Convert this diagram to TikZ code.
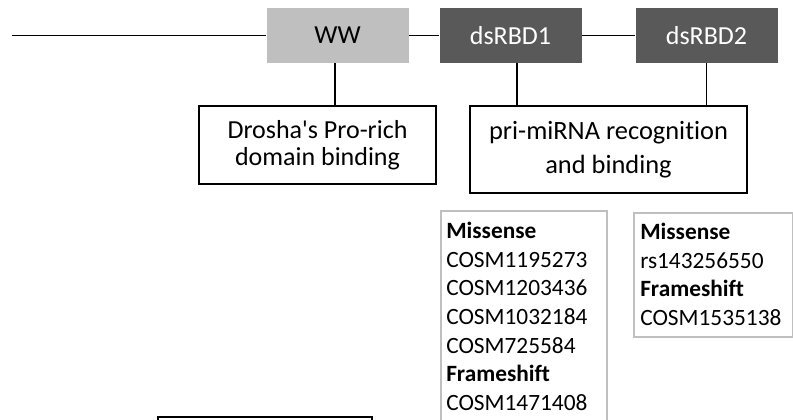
\documentclass[tikz,border=0pt]{standalone}
\usepackage{fontspec}
\setmainfont{Carlito}[Ligatures={CommonOff,TeXOff}]
\definecolor{wwgray}{RGB}{191,191,191}
\definecolor{dsgray}{RGB}{89,89,89}
\definecolor{framegray}{RGB}{191,191,191}

\begin{document}
\begin{tikzpicture}[x=0.75pt,y=-0.75pt,
    domainbox/.style={minimum width=106.5pt,minimum height=41.25pt,inner sep=0pt,font=\fontsize{19.5}{23}\selectfont},
    rolebox/.style={draw,line width=1.3pt,inner sep=0pt,align=center},
    mutbox/.style={draw=framegray,line width=1.5pt,inner sep=0pt,anchor=north west},
    mutlist/.style={align=left,inner sep=0pt,anchor=north west,font=\fontsize{17.5}{21.5}\selectfont},
    link/.style={line width=1.3pt}]
    \useasboundingbox (0,0) rectangle (793,419);
    \clip (0,0) rectangle (793,419);

    \coordinate (start) at (12,35.5);
    \node[domainbox,fill=wwgray] (ww) at (337.5,35.5) {WW};
    \node[domainbox,fill=dsgray,text=white] (rbd1) at (510.5,35.5) {dsRBD1};
    \node[domainbox,fill=dsgray,text=white] (rbd2) at (706.5,35.5) {dsRBD2};

    \draw[link] (start) -- (ww.west);
    \draw[link] (ww) -- (rbd1);
    \draw[link] (rbd1) -- (rbd2);

    \node[rolebox,minimum width=177.75pt,minimum height=58.5pt,font=\fontsize{19.5}{20}\selectfont] (drosha) at (317.5,145) {Drosha's Pro-rich\\domain binding};
    \node[rolebox,minimum width=207.75pt,minimum height=65.25pt,font=\fontsize{19.8}{25.5}\selectfont] (pri) at (608.5,149.5) {pri-miRNA recognition\\and binding};

    \draw[link] ([xshift=-1.9pt]ww.south) -- ([xshift=-1.9pt]ww.south |- drosha.north);
    \draw[link] ([xshift=4.9pt]rbd1.south) -- ([xshift=4.9pt]rbd1.south |- pri.north);
    \draw[link] (rbd2.south) -- (rbd2.south |- pri.north);

    % mutation lists
    \node[mutbox,minimum width=124.5pt,minimum height=175pt] (mis1) at (440,210) {};
    \node[mutlist] (mis1list) at (446,222) {\textbf{Missense}\\COSM1195273\\COSM1203436\\COSM1032184\\COSM725584\\\textbf{Frameshift}\\COSM1471408};
    \node[mutbox,minimum width=119.25pt,minimum height=93pt] (mis2) at (633,212) {};
    \node[mutlist] (mis2list) at (640,223) {\textbf{Missense}\\rs143256550\\\textbf{Frameshift}\\COSM1535138};

    \node[rolebox,anchor=north west,minimum width=160.5pt,minimum height=30pt] (lower) at (157,416) {};
\end{tikzpicture}
\end{document}
